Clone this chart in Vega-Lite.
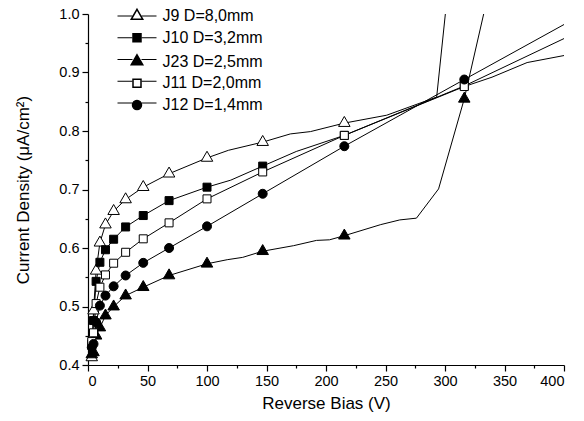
{
  "$schema": "https://vega.github.io/schema/vega-lite/v6.json",
  "width": 476,
  "height": 351,
  "autosize": "none",
  "padding": {"left": 88, "top": 14, "right": 20, "bottom": 56},
  "background": "white",
  "config": {
    "font": "Liberation Sans",
    "view": {"stroke": null},
    "axis": {
      "grid": false,
      "domainColor": "black",
      "tickColor": "black",
      "labelColor": "black",
      "titleColor": "black",
      "domainWidth": 1.2,
      "tickWidth": 1.2,
      "labelFont": "Liberation Sans",
      "titleFont": "Liberation Sans",
      "labelFontSize": 14.5,
      "titleFontSize": 17,
      "titleFontWeight": "normal"
    }
  },
  "data": {
    "values": [
      {"s": "J9 D=8,0mm", "v": 3.16, "j": 0.413, "m": 1},
      {"s": "J9 D=8,0mm", "v": 4.64, "j": 0.493, "m": 1},
      {"s": "J9 D=8,0mm", "v": 6.81, "j": 0.561, "m": 1},
      {"s": "J9 D=8,0mm", "v": 10, "j": 0.609, "m": 1},
      {"s": "J9 D=8,0mm", "v": 14.68, "j": 0.64, "m": 1},
      {"s": "J9 D=8,0mm", "v": 21.54, "j": 0.663, "m": 1},
      {"s": "J9 D=8,0mm", "v": 31.62, "j": 0.683, "m": 1},
      {"s": "J9 D=8,0mm", "v": 46.42, "j": 0.704, "m": 1},
      {"s": "J9 D=8,0mm", "v": 68.13, "j": 0.727, "m": 1},
      {"s": "J9 D=8,0mm", "v": 100, "j": 0.754, "m": 1},
      {"s": "J9 D=8,0mm", "v": 118, "j": 0.767, "m": 0},
      {"s": "J9 D=8,0mm", "v": 146.8, "j": 0.781, "m": 1},
      {"s": "J9 D=8,0mm", "v": 170, "j": 0.795, "m": 0},
      {"s": "J9 D=8,0mm", "v": 187, "j": 0.799, "m": 0},
      {"s": "J9 D=8,0mm", "v": 215.4, "j": 0.8135, "m": 1},
      {"s": "J9 D=8,0mm", "v": 251, "j": 0.827, "m": 0},
      {"s": "J9 D=8,0mm", "v": 293, "j": 0.858, "m": 0},
      {"s": "J9 D=8,0mm", "v": 300.3, "j": 1.0, "m": 0},

      {"s": "J10 D=3,2mm", "v": 3.16, "j": 0.436, "m": 1},
      {"s": "J10 D=3,2mm", "v": 4.64, "j": 0.476, "m": 1},
      {"s": "J10 D=3,2mm", "v": 6.81, "j": 0.543, "m": 1},
      {"s": "J10 D=3,2mm", "v": 10, "j": 0.5756, "m": 1},
      {"s": "J10 D=3,2mm", "v": 14.68, "j": 0.597, "m": 1},
      {"s": "J10 D=3,2mm", "v": 21.54, "j": 0.615, "m": 1},
      {"s": "J10 D=3,2mm", "v": 31.62, "j": 0.636, "m": 1},
      {"s": "J10 D=3,2mm", "v": 46.42, "j": 0.6555, "m": 1},
      {"s": "J10 D=3,2mm", "v": 68.13, "j": 0.681, "m": 1},
      {"s": "J10 D=3,2mm", "v": 100, "j": 0.704, "m": 1},
      {"s": "J10 D=3,2mm", "v": 120, "j": 0.716, "m": 0},
      {"s": "J10 D=3,2mm", "v": 146.8, "j": 0.74, "m": 1},
      {"s": "J10 D=3,2mm", "v": 175, "j": 0.765, "m": 0},
      {"s": "J10 D=3,2mm", "v": 215.4, "j": 0.7925, "m": 1},
      {"s": "J10 D=3,2mm", "v": 316.2, "j": 0.877, "m": 1},
      {"s": "J10 D=3,2mm", "v": 400, "j": 0.958, "m": 0},

      {"s": "J23 D=2,5mm", "v": 3.16, "j": 0.418, "m": 1},
      {"s": "J23 D=2,5mm", "v": 4.64, "j": 0.4216, "m": 1},
      {"s": "J23 D=2,5mm", "v": 6.81, "j": 0.45, "m": 1},
      {"s": "J23 D=2,5mm", "v": 10, "j": 0.464, "m": 1},
      {"s": "J23 D=2,5mm", "v": 14.68, "j": 0.4844, "m": 1},
      {"s": "J23 D=2,5mm", "v": 21.54, "j": 0.4998, "m": 1},
      {"s": "J23 D=2,5mm", "v": 31.62, "j": 0.5186, "m": 1},
      {"s": "J23 D=2,5mm", "v": 46.42, "j": 0.533, "m": 1},
      {"s": "J23 D=2,5mm", "v": 68.13, "j": 0.553, "m": 1},
      {"s": "J23 D=2,5mm", "v": 100, "j": 0.573, "m": 1},
      {"s": "J23 D=2,5mm", "v": 117, "j": 0.58, "m": 0},
      {"s": "J23 D=2,5mm", "v": 130, "j": 0.584, "m": 0},
      {"s": "J23 D=2,5mm", "v": 146.8, "j": 0.5945, "m": 1},
      {"s": "J23 D=2,5mm", "v": 172.8, "j": 0.604, "m": 0},
      {"s": "J23 D=2,5mm", "v": 192, "j": 0.613, "m": 0},
      {"s": "J23 D=2,5mm", "v": 203, "j": 0.614, "m": 0},
      {"s": "J23 D=2,5mm", "v": 215.4, "j": 0.621, "m": 1},
      {"s": "J23 D=2,5mm", "v": 246, "j": 0.64, "m": 0},
      {"s": "J23 D=2,5mm", "v": 262, "j": 0.648, "m": 0},
      {"s": "J23 D=2,5mm", "v": 276, "j": 0.651, "m": 0},
      {"s": "J23 D=2,5mm", "v": 294.6, "j": 0.701, "m": 0},
      {"s": "J23 D=2,5mm", "v": 316.2, "j": 0.855, "m": 1},
      {"s": "J23 D=2,5mm", "v": 332.5, "j": 1.0, "m": 0},

      {"s": "J11 D=2,0mm", "v": 3.16, "j": 0.44, "m": 1},
      {"s": "J11 D=2,0mm", "v": 4.64, "j": 0.455, "m": 1},
      {"s": "J11 D=2,0mm", "v": 6.81, "j": 0.505, "m": 1},
      {"s": "J11 D=2,0mm", "v": 10, "j": 0.533, "m": 1},
      {"s": "J11 D=2,0mm", "v": 14.68, "j": 0.554, "m": 1},
      {"s": "J11 D=2,0mm", "v": 21.54, "j": 0.574, "m": 1},
      {"s": "J11 D=2,0mm", "v": 31.62, "j": 0.5927, "m": 1},
      {"s": "J11 D=2,0mm", "v": 46.42, "j": 0.6157, "m": 1},
      {"s": "J11 D=2,0mm", "v": 68.13, "j": 0.643, "m": 1},
      {"s": "J11 D=2,0mm", "v": 100, "j": 0.684, "m": 1},
      {"s": "J11 D=2,0mm", "v": 146.8, "j": 0.73, "m": 1},
      {"s": "J11 D=2,0mm", "v": 215.4, "j": 0.7925, "m": 1},
      {"s": "J11 D=2,0mm", "v": 316.2, "j": 0.876, "m": 1},
      {"s": "J11 D=2,0mm", "v": 339.5, "j": 0.892, "m": 0},
      {"s": "J11 D=2,0mm", "v": 369, "j": 0.917, "m": 0},
      {"s": "J11 D=2,0mm", "v": 400, "j": 0.929, "m": 0},

      {"s": "J12 D=1,4mm", "v": 3.16, "j": 0.43, "m": 1},
      {"s": "J12 D=1,4mm", "v": 4.64, "j": 0.436, "m": 1},
      {"s": "J12 D=1,4mm", "v": 6.81, "j": 0.473, "m": 1},
      {"s": "J12 D=1,4mm", "v": 10, "j": 0.5015, "m": 1},
      {"s": "J12 D=1,4mm", "v": 14.68, "j": 0.5186, "m": 1},
      {"s": "J12 D=1,4mm", "v": 21.54, "j": 0.5345, "m": 1},
      {"s": "J12 D=1,4mm", "v": 31.62, "j": 0.553, "m": 1},
      {"s": "J12 D=1,4mm", "v": 46.42, "j": 0.5746, "m": 1},
      {"s": "J12 D=1,4mm", "v": 68.13, "j": 0.6, "m": 1},
      {"s": "J12 D=1,4mm", "v": 100, "j": 0.637, "m": 1},
      {"s": "J12 D=1,4mm", "v": 146.8, "j": 0.6927, "m": 1},
      {"s": "J12 D=1,4mm", "v": 215.4, "j": 0.774, "m": 1},
      {"s": "J12 D=1,4mm", "v": 316.2, "j": 0.888, "m": 1},
      {"s": "J12 D=1,4mm", "v": 400, "j": 0.982, "m": 0}
    ]
  },
  "layer": [
    {
      "mark": {"type": "line", "strokeWidth": 1},
      "encoding": {
        "x": {
          "field": "v", "type": "quantitative",
          "scale": {"domain": [0, 400], "nice": false, "zero": false},
          "axis": {"orient": "bottom", "values": [0, 50, 100, 150, 200, 250, 300, 350, 400], "title": "Reverse Bias (V)", "tickSize": 6, "labelPadding": 3, "titlePadding": 8}
        },
        "y": {
          "field": "j", "type": "quantitative",
          "scale": {"domain": [0.4, 1.0], "nice": false, "zero": false},
          "axis": {"orient": "left", "values": [0.4, 0.5, 0.6, 0.7, 0.8, 0.9, 1.0], "format": ".1f", "title": "Current Density (μA/cm²)", "tickSize": 6, "labelPadding": 3, "titlePadding": 26}
        },
        "color": {
          "field": "s", "type": "nominal",
          "scale": {"range": ["black"]},
          "legend": {
            "orient": "none", "legendX": 41, "legendY": -6, "title": null,
            "symbolType": "M-3.9,0H-0.9M0.9,0H3.9", "symbolSize": 100, "symbolStrokeWidth": 1,
            "labelFontSize": 16, "labelFont": "Liberation Sans", "labelOpacity": 0,
            "labelOffset": 17.5, "rowPadding": 5.75
          }
        },
        "detail": {"field": "s"},
        "order": {"field": "v", "type": "quantitative"}
      }
    },
    {
      "transform": [{"filter": "datum.m == 1"}],
      "mark": {"type": "point", "filled": true, "stroke": "black", "strokeWidth": 1, "opacity": 1, "size": 100},
      "encoding": {
        "x": {
          "field": "v", "type": "quantitative",
          "axis": {"orient": "bottom", "values": [25, 75, 125, 175, 225, 275, 325, 375], "labels": false, "domain": false, "tickSize": 3, "title": null}
        },
        "y": {
          "field": "j", "type": "quantitative",
          "axis": {"orient": "left", "values": [0.45, 0.55, 0.65, 0.75, 0.85, 0.95], "labels": false, "domain": false, "tickSize": 3, "title": null}
        },
        "shape": {
          "field": "s", "type": "nominal",
          "scale": {
            "domain": ["J9 D=8,0mm", "J10 D=3,2mm", "J23 D=2,5mm", "J11 D=2,0mm", "J12 D=1,4mm"],
            "range": [
              "M0,-1.33L1.15,0.665L-1.15,0.665Z",
              "M-0.8,-0.8H0.8V0.8H-0.8Z",
              "M0,-1.33L1.15,0.665L-1.15,0.665Z",
              "M-0.8,-0.8H0.8V0.8H-0.8Z",
              "M-0.9,0A0.9,0.9,0,1,1,0.9,0A0.9,0.9,0,1,1,-0.9,0Z"
            ]
          },
          "legend": {
            "orient": "none", "legendX": 41, "legendY": -6, "title": null,
            "labelFontSize": 16, "labelFont": "Liberation Sans", "labelColor": "black",
            "labelOffset": 17.5, "rowPadding": 5.75, "symbolSize": 100, "symbolOpacity": 1
          }
        },
        "fill": {
          "field": "s", "type": "nominal",
          "scale": {"domain": ["J9 D=8,0mm", "J10 D=3,2mm", "J23 D=2,5mm", "J11 D=2,0mm", "J12 D=1,4mm"], "range": ["white", "black", "black", "white", "black"]}
        }
      }
    }
  ],
  "resolve": {"axis": {"x": "independent", "y": "independent"}}
}
